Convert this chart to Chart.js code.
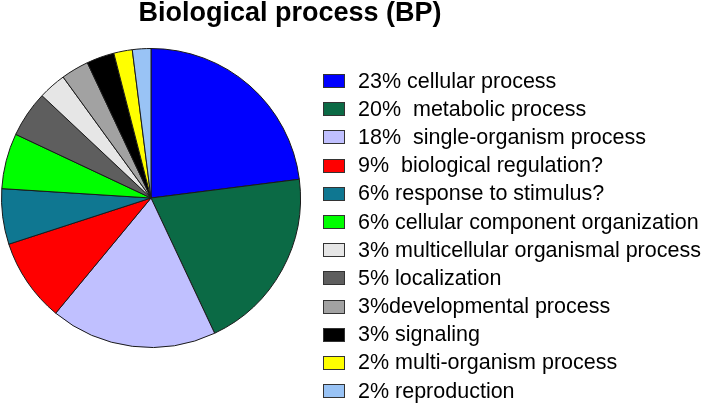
<!DOCTYPE html>
<html>
<head>
<meta charset="utf-8">
<script src="https://cdn.jsdelivr.net/npm/chart.js@4"></script>
<style>
  html, body { margin: 0; padding: 0; background: #fff; }
  #wrap { position: relative; width: 702px; height: 403px; }
  #bpChart { position: absolute; left: 0; top: 0; }
  #legend {
    position: absolute; left: 323px; top: 67px;
    margin: 0; padding: 0; list-style: none;
    font-family: "Liberation Sans", Arial, sans-serif; font-size: 21.5px; color: #000;
  }
  #legend li { display: flex; align-items: center; height: 28.2px; white-space: pre; }
  #legend .box {
    display: inline-block; width: 22px; height: 14px; box-sizing: border-box;
    border: 1px solid #333; margin-right: 13px; flex: none;
  }
</style>
</head>
<body>
<div id="wrap">
  <canvas id="bpChart" width="702" height="403"></canvas>
  <ul id="legend"></ul>
</div>
<script>
// Biological process (BP) -- slices listed clockwise from 12 o'clock
const titleText = 'Biological process (BP)';
const legendLabels = [
  '23% cellular process',
  '20%  metabolic process',
  '18%  single-organism process',
  '9%  biological regulation?',
  '6% response to stimulus?',
  '6% cellular component organization',
  '5% localization',
  '3% multicellular organismal process',
  '3%developmental process',
  '3% signaling',
  '2% multi-organism process',
  '2% reproduction'
];
const percents = [23, 20, 18, 9, 6, 6, 5, 3, 3, 3, 2, 2];
const colors = [
  '#0000FF', '#0B6A45', '#C0C0FF', '#FF0000', '#0F7791', '#00FF00',
  '#5E5E5E', '#E6E6E6', '#A2A2A2', '#000000', '#FFFF00', '#99C3F5'
];
// order of the entries in the legend (differs a little from the slices)
const legendOrder = [0, 1, 2, 3, 4, 5, 7, 6, 8, 9, 10, 11];

const titlePlugin = {
  id: 'bpTitle',
  afterDraw(chart) {
    const c = chart.ctx;
    c.save();
    c.font = 'bold 27px "Liberation Sans", Arial, sans-serif';
    c.fillStyle = '#000';
    c.textAlign = 'center';
    c.textBaseline = 'alphabetic';
    c.fillText(titleText, 290, 21);
    c.restore();
  }
};

// legend as html list, built from chart's own legend items
const htmlLegend = {
  id: 'htmlLegend',
  afterUpdate(chart) {
    const list = document.getElementById('legend');
    list.innerHTML = '';
    const items = chart.options.plugins.legend.labels.generateLabels(chart);
    items.sort((a, b) => legendOrder.indexOf(a.index) - legendOrder.indexOf(b.index));
    items.forEach(item => {
      const li = document.createElement('li');
      const box = document.createElement('span');
      box.className = 'box';
      box.style.background = item.fillStyle;
      const txt = document.createElement('span');
      txt.textContent = item.text;
      li.append(box, txt);
      list.appendChild(li);
    });
  }
};

const ctx = document.getElementById('bpChart').getContext('2d');
new Chart(ctx, {
  type: 'pie',
  data: {
    labels: legendLabels,
    datasets: [{
      data: percents,
      backgroundColor: colors,
      borderColor: '#1a1a1a',
      borderWidth: 1
    }]
  },
  options: {
    responsive: false,
    animation: false,
    layout: { padding: { left: 1, top: 48, right: 401, bottom: 55 } },
    plugins: {
      legend: { display: false },
      title: { display: false },
      tooltip: { enabled: false }
    }
  },
  plugins: [titlePlugin, htmlLegend]
});
</script>
</body>
</html>
